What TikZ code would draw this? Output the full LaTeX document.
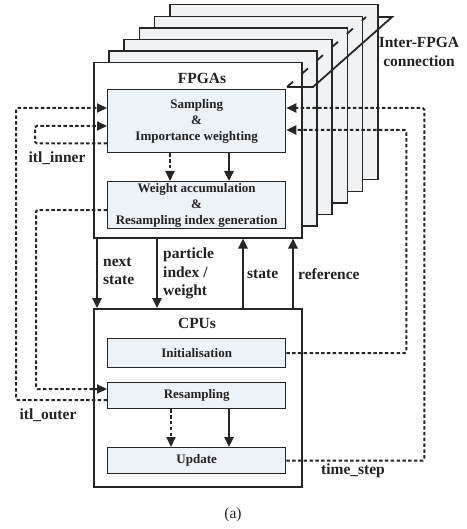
\documentclass[tikz,border=0pt]{standalone}
\usepackage{fontspec}
\setmainfont{Liberation Serif}
\usetikzlibrary{arrows.meta}
\definecolor{lineC}{HTML}{262626}
\definecolor{layerfill}{HTML}{F1F2F4}
\definecolor{boxfill}{HTML}{EDF2F7}
\definecolor{textC}{HTML}{222222}
\tikzset{
  layer/.style={draw=lineC, line width=1.5pt, fill=layerfill, rectangle, anchor=north west, minimum width=208pt, minimum height=175pt, inner sep=0pt},
  bigbox/.style={draw=lineC, line width=1.5pt, fill=white, rectangle, anchor=north west, minimum width=208pt, inner sep=0pt},
  subbox/.style={draw=lineC, line width=1.3pt, fill=boxfill, rectangle, anchor=north west, minimum width=178pt, inner sep=0pt, text=textC, font=\fontsize{13}{16}\selectfont\bfseries, align=center},
  title/.style={text=textC, font=\fontsize{15.5}{18.5}\selectfont\bfseries},
  lab/.style={text=textC, font=\fontsize{15.5}{18.5}\selectfont\bfseries, align=left, inner sep=0pt},
  tip/.style={-{Triangle[length=10pt,width=9pt]}},
  solidarrow/.style={tip, draw=lineC, line width=2.4pt},
  dasharrow/.style={tip, draw=lineC, line width=2pt, dash pattern=on 3.5pt off 2.3pt},
  dashline/.style={draw=lineC, line width=2pt, dash pattern=on 3.5pt off 2.3pt},
}
\begin{document}
\begin{tikzpicture}[x=1pt, y=-1pt]
\useasboundingbox (0,0) rectangle (466,529);
% stacked FPGA layers (back to front)
\foreach \k in {5,4,3,2,1} {
  \node[layer] (lay\k) at ({93+15.2*\k},{62-11.6*\k}) {};
}
\node[bigbox, minimum height=175pt] (fpga) at (93,62) {};
% inter-FPGA connection
\coordinate (ic1) at (287,87);
\coordinate (ic2) at (313,87);
\coordinate (ic3) at (392,17);
\coordinate (ic4) at (377,17);
\coordinate (ic5) at (366,17);
\draw[lineC, line width=1.8pt, line join=miter] (ic1) -- (ic2) -- (ic3) -- (ic4);
\draw[lineC, line width=1.8pt, dash pattern=on 8pt off 12pt] (ic1) -- (ic5);
\node[title, align=center, inner sep=0pt] (ilab) at (419,52) {Inter-FPGA\\connection};

\node[title] (fpgat) at (202,78) {FPGAs};
\node[subbox, minimum height=63pt] (samp) at (107,89) {Sampling\\\&\\Importance weighting};
\node[subbox, minimum height=47pt] (wacc) at (107,181) {Weight accumulation\\\&\\Resampling index generation};

% CPU box
\node[bigbox, minimum height=178pt] (cpu) at (93,308) {};
\node[title] (cput) at (197,323) {CPUs};
\node[subbox, minimum height=29pt] (init) at (107,338) {Initialisation};
\node[subbox, minimum height=26pt] (resamp) at (107,382) {Resampling};
\node[subbox, minimum height=26pt] (update) at (107,447) {Update};

% inner arrows
\draw[dasharrow] ([xshift=63pt]samp.south west) -- ([xshift=63pt]wacc.north west);
\draw[solidarrow] ([xshift=122pt]samp.south west) -- ([xshift=122pt]wacc.north west);
\draw[dasharrow] ([xshift=64pt]resamp.south west) -- ([xshift=64pt]update.north west);
\draw[solidarrow] ([xshift=122pt]resamp.south west) -- ([xshift=122pt]update.north west);

% FPGA <-> CPU arrows
\draw[solidarrow] ([xshift=4pt]fpga.south west) -- ([xshift=4pt]cpu.north west);
\draw[solidarrow] ([xshift=64pt]fpga.south west) -- ([xshift=64pt]cpu.north west);
\draw[solidarrow] ([xshift=150pt]cpu.north west) -- ([xshift=150pt]fpga.south west);
\draw[solidarrow] ([xshift=200pt]cpu.north west) -- ([xshift=200pt]fpga.south west);
\node[lab, anchor=west] (lnext) at (103,271) {next\\state};
\node[lab, anchor=west] (lpart) at (163,273.5) {particle\\index /\\weight};
\node[lab, anchor=west] (lstate) at (247,274) {state};
\node[lab, anchor=west] (lref) at (298,274) {reference};

% left dashed loops
\draw[dasharrow, rounded corners=1.5pt] ([yshift=10pt]samp.south west) -- ++(-72,0) |- ([yshift=-37pt]samp.north west);
\draw[dasharrow, rounded corners=1.5pt] ([yshift=-18pt]resamp.north west) -- ++(-91,0) |- ([yshift=-19pt]samp.north west);
\draw[dasharrow, rounded corners=1.5pt] ([yshift=-29pt]wacc.north west) -- ++(-71,0) |- ([yshift=-7pt]resamp.north west);
\node[lab] (litlin) at (57,158) {itl\_inner};
\node[lab] (litlout) at (48,415) {itl\_outer};

% right dashed loops
\draw[dasharrow, rounded corners=1.5pt] (update.east) -- ++(138,0) |- ([yshift=-19pt]samp.north east);
\draw[dasharrow, rounded corners=1.5pt] (init.east) -- ++(120,0) |- ([yshift=-41pt]samp.north east);
\node[lab] (ltime) at (353,471) {time\_step};

\node[text=textC, font=\fontsize{15.5}{18.5}\selectfont] (cap) at (233,515) {(a)};
\end{tikzpicture}
\end{document}
